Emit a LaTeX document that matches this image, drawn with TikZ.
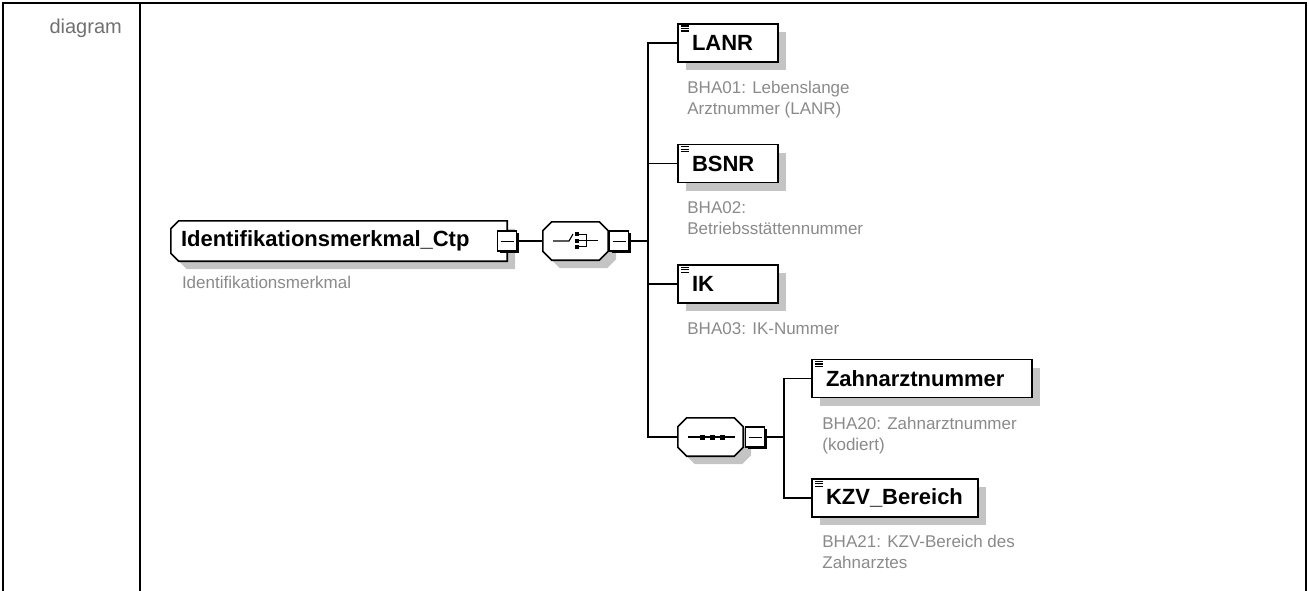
\documentclass[tikz,border=0pt]{standalone}
\usepackage{fontspec}
\setmainfont{Liberation Sans}
\usepackage{xcolor}
\usetikzlibrary{calc,positioning,shadows,backgrounds}
\definecolor{shadowgrey}{HTML}{C4C4C4}
\definecolor{notegrey}{HTML}{8A8A8A}
\definecolor{labelgrey}{HTML}{707070}
% outline of a node with cut corners: node, left cut, right cut
\newcommand\cutpath[3]{($(#1.north west)+(#2,0)$) -- ($(#1.north east)+(-#3,0)$)
  -- ($(#1.north east)+(0,#3)$) -- ($(#1.south east)+(0,-#3)$)
  -- ($(#1.south east)+(-#3,0)$) -- ($(#1.south west)+(#2,0)$)
  -- ($(#1.south west)+(0,-#2)$) -- ($(#1.north west)+(0,#2)$) -- cycle}
\tikzset{
  every node/.style={inner sep=0pt},
  sh/.style={drop shadow={shadow xshift=8pt,shadow yshift=-8pt,fill=shadowgrey,opacity=1}},
  conn/.style={line width=1.5pt},
  outline/.style={draw,line width=1.6pt,fill=white,sh},
  elem/.style={draw,line width=1.6pt,fill=white,sh,text width=72pt,align=left,minimum height=38pt,
    inner xsep=14pt,font=\fontsize{22}{26}\selectfont\bfseries,
    path picture={\foreach \k in {2,4.5,7}
      \draw[line width=1.1pt] ([shift={(3pt,-\k pt)}]path picture bounding box.north west) -- ++(8pt,0pt);}},
  cplx/.style={text width=316pt,align=left,inner xsep=10pt,minimum height=40pt,
    font=\fontsize{22}{26}\selectfont\bfseries},
  comp/.style={minimum width=65pt,minimum height=38pt},
  choice/.style={outline,path picture={
    \begin{scope}[shift={(path picture bounding box.center)},x=1pt,y=1pt,line width=1.1pt]
      \draw (-22.5,0) -- (-6.5,0) -- (-2.5,7);
      \foreach \v in {6.8,0.3,-5.7} \fill[black] (-0.5,\v-2) rectangle ++(4,4);
      \draw (3.5,6.8) -- (11,6.8) -- (11,-5.7) -- (3.5,-5.7) (3.5,0.3) -- (22.5,0.3);
    \end{scope}}},
  seq/.style={outline,path picture={
    \begin{scope}[shift={(path picture bounding box.center)},x=1pt,y=1pt,line width=1.1pt]
      \draw (-22.5,0) -- (24.5,0);
      \foreach \u in {-8.5,1.5,11.5} \fill[black] (\u-2.5,-2.5) rectangle ++(5,5);
    \end{scope}}},
  pm/.style={draw,line width=1.2pt,fill=white,minimum width=19pt,minimum height=20pt,
    drop shadow={shadow xshift=2pt,shadow yshift=-2pt,fill=black,opacity=1},
    path picture={\draw[line width=1pt] ([xshift=3pt]path picture bounding box.west)
      -- ([xshift=-3pt]path picture bounding box.east);}},
  ann/.style={text=notegrey,align=left,font=\fontsize{17}{21}\selectfont},
}
\begin{document}
\begin{tikzpicture}[x=1pt,y=-1pt]
  \useasboundingbox (0,0) rectangle (1309,590);
  % frame of the table row
  \draw[line width=2.5pt] (3,592) -- (3,3) -- (1306,3) -- (1306,592);
  \draw[line width=2pt] (140,3) -- (140,592);
  \node[anchor=north east,text=labelgrey,font=\fontsize{20}{24}\selectfont] (lbl) at (122,19) {diagram};

  % complex type and its choice
  \node[cplx] (ctp) at (339,241) {Identifikationsmerkmal\_Ctp};
  \node[ann,below right=15pt and 11pt of ctp.south west] (ctpn) {Identifikationsmerkmal};
  \node[pm] (pm1) at (507,241) {};
  \node[comp] (ch) at (575.5,241) {};
  \node[pm] (pm2) at (619,241) {};
  \coordinate (t1) at (648,241);

  % elements
  \node[elem] (lanr) at (728,43) {LANR};
  \node[ann,below right=18pt and 10pt of lanr.south west] (lanrn) {BHA01: Lebenslange\\Arztnummer (LANR)};
  \node[elem,below=81pt of lanr] (bsnr) {BSNR};
  \node[ann,below right=18pt and 10pt of bsnr.south west] (bsnrn) {BHA02:\\Betriebsstättennummer};
  \node[elem,below=81pt of bsnr] (ik) {IK};
  \node[ann,below right=18pt and 10pt of ik.south west] (ikn) {BHA03: IK-Nummer};

  % sequence
  \node[comp] (sq) at (710.5,437) {};
  \node[pm] (pm3) at (755,437) {};
  \coordinate (t2) at (784,437);
  \node[elem,text width=192pt] (zahn) at (922,378.5) {Zahnarztnummer};
  \node[ann,below right=19pt and 11pt of zahn.south west] (zahnn) {BHA20: Zahnarztnummer\\(kodiert)};
  \node[elem,text width=138pt,below right=80pt and 0pt of zahn.south west] (kzv) {KZV\_Bereich};
  \node[ann,below right=17pt and 11pt of kzv.south west] (kzvn) {BHA21: KZV-Bereich des\\Zahnarztes};

  \begin{scope}[on background layer]
    \draw[outline] \cutpath{ctp}{8}{0};
    \draw[choice] \cutpath{ch}{9}{9};
    \draw[seq] \cutpath{sq}{9}{9};
  \end{scope}

  \draw[conn] (pm1.east) -- (ch.west);
  \draw[conn] (pm2.east) -- (t1);
  \foreach \n in {lanr,bsnr,ik,sq}
    \draw[conn] (t1) |- (\n.west);
  \draw[conn] (pm3.east) -- (t2);
  \foreach \n in {zahn,kzv}
    \draw[conn] (t2) |- (\n.west);
\end{tikzpicture}
\end{document}
